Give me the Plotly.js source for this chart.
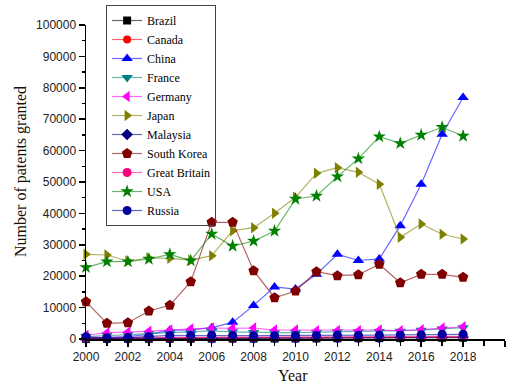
<!DOCTYPE html>
<html>
<head>
<meta charset="utf-8">
<script src="https://cdn.plot.ly/plotly-3.0.1.min.js"></script>
<style>html,body{margin:0;padding:0;background:#fff;}#chart{width:515px;height:385px;}</style>
</head>
<body>
<div id="chart"></div>
<script>
const years = [2000,2001,2002,2003,2004,2005,2006,2007,2008,2009,2010,2011,2012,2013,2014,2015,2016,2017,2018];
const brazil = [60,70,80,90,100,110,120,130,140,150,170,200,220,250,270,300,330,370,400];
const canada = [300,320,330,350,380,400,420,430,440,450,460,480,500,510,520,540,560,580,600];
const china = [300,500,800,1500,2800,2900,3600,5300,10700,16600,15900,20600,27000,25000,25500,36100,49300,65200,76900];
const france = [800,1200,1400,1700,2000,2300,2600,2300,2100,2000,2000,2100,2300,2300,2400,2500,2800,3200,3600];
const germany = [1200,2000,2200,2450,2850,3200,3500,3400,3500,2870,2870,2650,2700,2650,2870,2600,2970,3500,3900];
const japan = [26970,26750,24840,25800,25700,25100,26540,34500,35450,40030,45130,52770,54560,53090,49270,32390,36630,33350,31850];
const malaysia = [100,120,150,180,200,220,250,280,300,320,350,380,400,420,450,480,500,520,550];
const southKorea = [11880,5000,5190,8920,10730,18250,37160,37160,21750,13150,15290,21430,20160,20480,23790,17930,20600,20600,19650];
const greatBritain = [400,450,480,500,550,560,580,600,620,600,620,650,680,700,720,750,780,800,850];
const usa = [22830,24620,24620,25480,26970,24940,33440,29620,31210,34400,44590,45550,51700,57430,64430,62320,64970,67430,64650];
const russia = [700,400,450,750,1150,1100,1200,1100,1050,1050,1100,1150,1270,1200,1250,1300,1350,1500,1500];

const seriesNames = ['Brazil','Canada','China','France','Germany','Japan','Malaysia','South Korea','Great Britain','USA','Russia'];
const seriesValues = [brazil,canada,china,france,germany,japan,malaysia,southKorea,greatBritain,usa,russia];
const colors = ['0,0,0','255,0,0','0,0,255','0,128,128','255,0,255','128,128,0','0,0,128','128,0,0','255,0,128','0,128,0','0,0,160'];
const symbols = ['square','circle','triangle-up','triangle-down','triangle-left','triangle-right','diamond','pentagon','circle','star','circle'];
const sizes = [8,8,10,10,10,10,9,11,9,10,9];

const traces = seriesNames.map((n,i)=>({
  type:'scatter', mode:'lines+markers', name:n, x:years, y:seriesValues[i],
  cliponaxis:false,
  line:{color:'rgba('+colors[i]+',0.6)', width:1.2},
  marker:{symbol:symbols[i], size:sizes[i], color:'rgb('+colors[i]+')', line:{width:0}}
}));

const tickFont = {family:'Liberation Sans, Arial, sans-serif', size:12, color:'#222'};
const serif = 'Liberation Serif, Times New Roman, serif';

const layout = {
  width:515, height:385,
  margin:{l:86, r:10, t:25, b:46, autoexpand:false},
  paper_bgcolor:'#fff', plot_bgcolor:'#fff',
  showlegend:true,
  xaxis:{range:[2000,2020], showgrid:false, zeroline:false, showline:true, linecolor:'#000', linewidth:1.5,
    ticks:'outside', ticklen:6, tickwidth:1.5, tickcolor:'#000', dtick:2, tick0:2000,
    minor:{dtick:1, ticks:'outside', ticklen:5, tickwidth:1.5, tickcolor:'#000'},
    tickfont:tickFont},
  yaxis:{range:[0,100000], showgrid:false, zeroline:false, showline:true, linecolor:'#000', linewidth:1.5,
    ticks:'outside', ticklen:6, tickwidth:1.5, tickcolor:'#000', dtick:10000, tickformat:'d',
    minor:{dtick:5000, ticks:'outside', ticklen:3, tickwidth:1.5, tickcolor:'#000'},
    tickfont:tickFont},
  legend:{x:0.048, y:(339-5)/314, xanchor:'left', yanchor:'top', bgcolor:'rgba(255,255,255,0)', bordercolor:'#444', borderwidth:1,
    maxheight:400,
    font:{family:serif, size:12, color:'#000'}, tracegroupgap:0},
  annotations:[
    {text:'Number of patents granted', xref:'paper', yref:'paper', x:(21-86)/419, y:(339-172)/314,
     textangle:-90, showarrow:false, xanchor:'center', yanchor:'middle', font:{family:serif, size:16, color:'#1a1000'}},
    {text:'Year', xref:'paper', yref:'paper', x:(293-86)/419, y:(339-375)/314,
     showarrow:false, xanchor:'center', yanchor:'middle', font:{family:serif, size:16, color:'#1a1000'}}
  ]
};

Plotly.newPlot('chart', traces, layout, {displayModeBar:false, staticPlot:true});
</script>
</body>
</html>
